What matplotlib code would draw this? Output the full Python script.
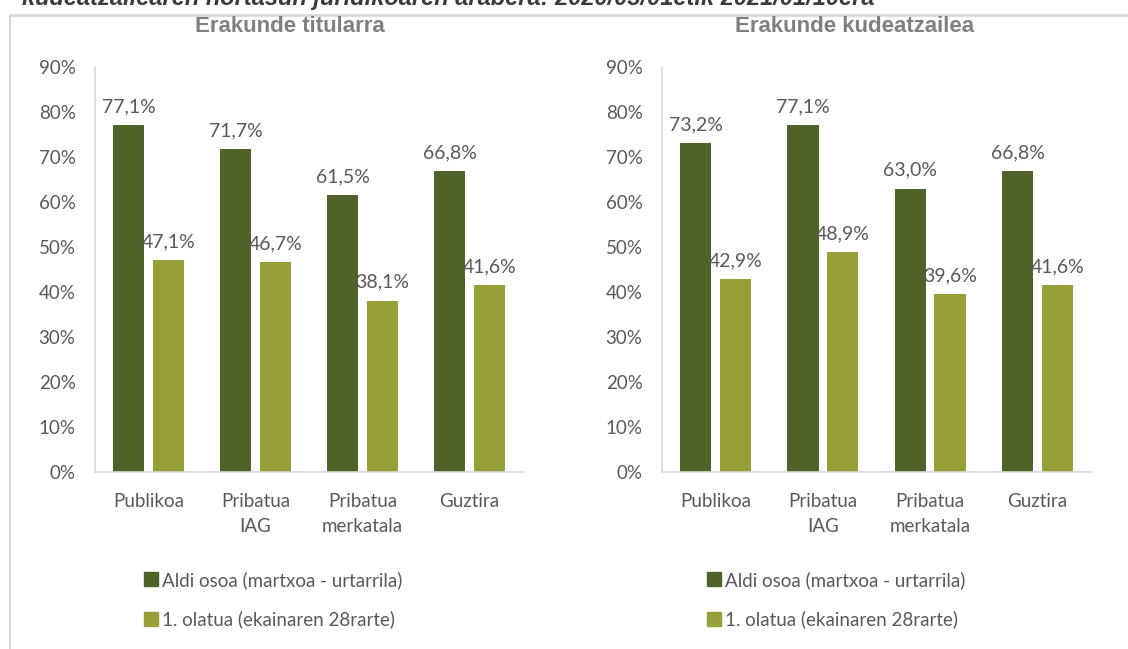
import matplotlib.pyplot as plt
from matplotlib.lines import Line2D
from matplotlib.patches import Patch

# Enrollment share by institution type, two breakdowns
categories = ["Publikoa", "Pribatua\nIAG", "Pribatua\nmerkatala", "Guztira"]
series_names = ["Aldi osoa (martxoa - urtarrila)", "1. olatua (ekainaren 28rarte)"]

titularra_full = [77.1, 71.7, 61.5, 66.8]
titularra_wave1 = [47.1, 46.7, 38.1, 41.6]

kudeatzailea_full = [73.2, 77.1, 63.0, 66.8]
kudeatzailea_wave1 = [42.9, 48.9, 39.6, 41.6]

panel_titles = ["Erakunde titularra", "Erakunde kudeatzailea"]
yticks = [0, 10, 20, 30, 40, 50, 60, 70, 80, 90]
header = "kudeatzailearen nortasun juridikoaren arabera: 2020/03/01etik 2021/01/10era"

DARK = "#4f6228"
LIGHT = "#979f39"
TEXT = "#595959"
FRAME = "#d9d9d9"

plt.rcParams["font.family"] = ["Lato", "DejaVu Sans"]

fig = plt.figure(figsize=(11.28, 6.49), dpi=100)

# header line running off the top edge, and the outer frame
fig.text(22 / 1128, 1 - 5 / 649, header, fontsize=17, fontweight="bold",
         fontstyle="italic", color="#3a3a3a", va="baseline", ha="left",
         family=["Liberation Sans", "DejaVu Sans"])
fig.add_artist(Line2D([10 / 1128, 1], [1 - 15 / 649] * 2, color=FRAME, lw=2))
fig.add_artist(Line2D([10 / 1128] * 2, [0, 1 - 15 / 649], color=FRAME, lw=1.5))


def fmt(v):
    return f"{v:.1f}%".replace(".", ",")


def draw_panel(rect, title, full, wave1, title_x, legend_x):
    ax = fig.add_axes(rect)
    x = list(range(len(categories)))
    w = 0.29
    off = 0.04 + w / 2
    b1 = ax.bar([i - off for i in x], full, width=w, color=DARK)
    b2 = ax.bar([i + off for i in x], wave1, width=w, color=LIGHT)
    for bars, vals in ((b1, full), (b2, wave1)):
        for bar, v in zip(bars, vals):
            ax.annotate(fmt(v), (bar.get_x() + bar.get_width() / 2, v),
                        xytext=(0, 7), textcoords="offset points",
                        ha="center", va="bottom", fontsize=14, color=TEXT)
    ax.set_xlim(-0.5, len(categories) - 0.5)
    ax.set_ylim(0, 90)
    ax.set_yticks(yticks)
    ax.set_yticklabels([f"{t}%" for t in yticks])
    ax.set_xticks(x)
    ax.set_xticklabels(categories, linespacing=1.55)
    ax.tick_params(axis="both", length=0, colors=TEXT, labelsize=13.5)
    ax.tick_params(axis="y", pad=14)
    ax.tick_params(axis="x", pad=15)
    for s in ("top", "right"):
        ax.spines[s].set_visible(False)
    for s in ("left", "bottom"):
        ax.spines[s].set_color(FRAME)
        ax.spines[s].set_linewidth(1.2)

    fig.text(title_x, 1 - 27 / 649, title, ha="center", va="center",
             fontsize=16, fontweight="bold", color="#7f7f7f",
             family=["Liberation Sans", "DejaVu Sans"])

    handles = [Patch(color=DARK), Patch(color=LIGHT)]
    fig.legend(handles, series_names, loc="upper left",
               bbox_to_anchor=(legend_x, 1 - 554 / 649), frameon=False,
               fontsize=13.5, labelcolor=TEXT, handlelength=0.75,
               handleheight=0.75, handletextpad=0.2, labelspacing=1.15)


draw_panel([95 / 1128, 1 - 472 / 649, 428 / 1128, 405 / 649],
           panel_titles[0], titularra_full, titularra_wave1, 290 / 1128, 127 / 1128)
draw_panel([662 / 1128, 1 - 472 / 649, 429 / 1128, 405 / 649],
           panel_titles[1], kudeatzailea_full, kudeatzailea_wave1, 855 / 1128, 690 / 1128)

fig.savefig("out.png", dpi=100)
